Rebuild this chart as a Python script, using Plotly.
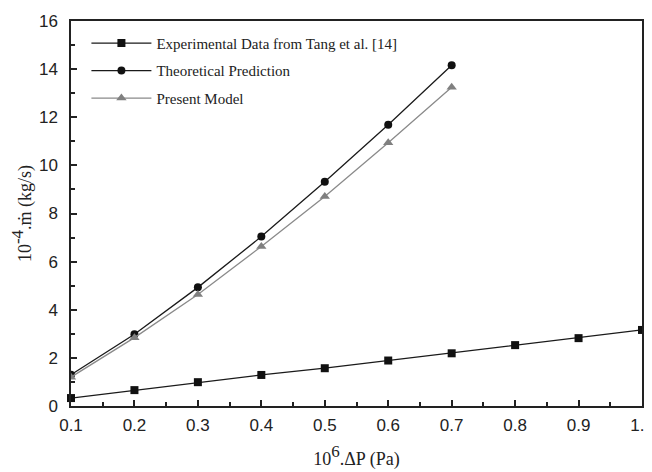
import plotly.graph_objects as go

x_exp = [0.1, 0.2, 0.3, 0.4, 0.5, 0.6, 0.7, 0.8, 0.9, 1.0]
y_exp = [0.33, 0.66, 0.99, 1.29, 1.57, 1.89, 2.19, 2.53, 2.82, 3.16]

x_model = [0.1, 0.2, 0.3, 0.4, 0.5, 0.6, 0.7]
y_theory = [1.30, 2.98, 4.93, 7.04, 9.32, 11.69, 14.16]
y_present = [1.20, 2.84, 4.63, 6.63, 8.71, 10.94, 13.25]

names = ["Experimental Data from Tang et al. [14]", "Theoretical Prediction", "Present Model"]

fig = go.Figure()
fig.add_trace(go.Scatter(x=x_exp, y=y_exp, mode="lines+markers", name=names[0], legendgroup="a",
                         cliponaxis=False,
                         line=dict(color="#1a1a1a", width=1.3),
                         marker=dict(symbol="square", size=8, color="#111111")))
fig.add_trace(go.Scatter(x=x_model, y=y_theory, mode="lines+markers", name=names[1], legendgroup="b",
                         line=dict(color="#1a1a1a", width=1.3),
                         marker=dict(symbol="circle", size=8, color="#111111")))
fig.add_trace(go.Scatter(x=x_model, y=y_present, mode="lines+markers", name=names[2], legendgroup="c",
                         line=dict(color="#8a8a8a", width=1.3),
                         marker=dict(symbol="triangle-up", size=9, color="#808080")))

axis_common = dict(showgrid=False, zeroline=False, showline=True, linecolor="#222222",
                   linewidth=1.5, mirror=True, ticks="inside", ticklen=6, tickwidth=1.5,
                   tickcolor="#222222", automargin=False, ticklabeloverflow="allow",
                   tickfont=dict(family="Liberation Sans, Arial", size=17, color="#222222"))

serif = "Liberation Serif, Times New Roman"

# the page body has an 8px default margin, so the figure is sized to fit the window
fig.update_layout(
    width=644, height=464,
    paper_bgcolor="white", plot_bgcolor="white",
    margin=dict(l=63, r=10, t=13, b=66),
    showlegend=True,
    legend=dict(x=0.027, y=0.985, xanchor="left", yanchor="top",
                bgcolor="rgba(0,0,0,0)",
                font=dict(family=serif, size=15, color="#222222"),
                tracegroupgap=5, itemwidth=60),
    xaxis=dict(range=[0.1, 1.0], dtick=0.1, tick0=0.1, tickformat=".1f", ticklabelstandoff=3,
               minor=dict(ticks="inside", ticklen=4, tickwidth=1.5, tickcolor="#222222", dtick=0.05),
               title=dict(text="10<sup><span style='font-size:17px'>6</span></sup>.ΔP (Pa)", standoff=18,
                          font=dict(family=serif, size=18, color="#222222")),
               **axis_common),
    yaxis=dict(range=[0, 16], dtick=2, ticklabelstandoff=8,
               minor=dict(ticks="inside", ticklen=4, tickwidth=1.5, tickcolor="#222222", dtick=1),
               title=dict(text="10<sup><span style='font-size:17px'>-4</span></sup>.ṁ (kg/s)", standoff=6,
                          font=dict(family=serif, size=18, color="#222222")),
               **axis_common),
)

fig.write_html("out.html")
